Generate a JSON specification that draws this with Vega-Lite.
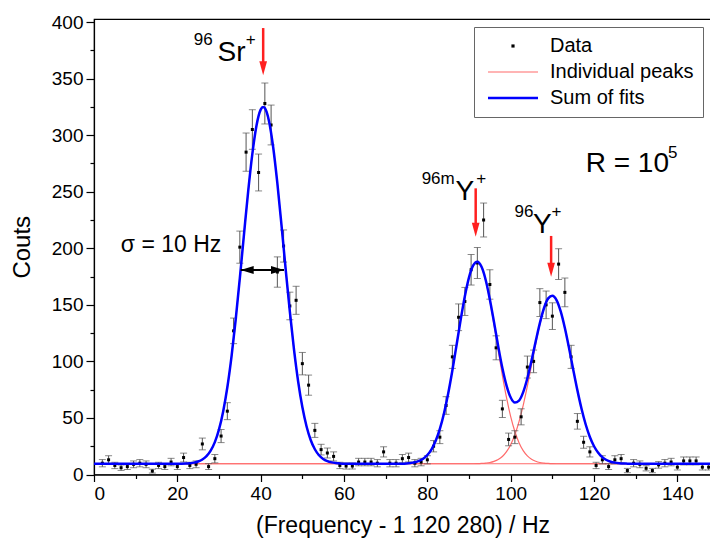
{
  "$schema": "https://vega.github.io/schema/vega-lite/v6.json",
  "width": 617,
  "height": 455.5,
  "autosize": {"type": "none"},
  "padding": {"left": 94, "top": 19, "right": 0, "bottom": 74.5},
  "config": {
    "font": "Liberation Sans",
    "view": {"stroke": "black", "strokeWidth": 1.2},
    "axis": {"domainColor": "black", "tickColor": "black", "labelColor": "black", "titleColor": "black", "grid": false, "titleFontWeight": "normal", "labelFont": "Liberation Sans", "titleFont": "Liberation Sans", "domainWidth": 1.2, "tickWidth": 1.2}
  },
  "resolve": {"axis": {"x": "independent", "y": "independent"}},
  "datasets": {
    "pts": [
      {"x": 2, "y": 10, "err": 3.2}, {"x": 3.5, "y": 13, "err": 3.6}, {"x": 5, "y": 8, "err": 2.8}, {"x": 6.5, "y": 6, "err": 2.4},
      {"x": 8, "y": 7, "err": 2.6}, {"x": 9.5, "y": 9, "err": 3.0}, {"x": 11, "y": 10, "err": 3.2}, {"x": 12.5, "y": 9, "err": 3.0},
      {"x": 14, "y": 3, "err": 1.7}, {"x": 15.5, "y": 8, "err": 2.8}, {"x": 17, "y": 7, "err": 2.6}, {"x": 18.5, "y": 11, "err": 3.3},
      {"x": 20, "y": 7, "err": 2.6}, {"x": 21.5, "y": 15, "err": 3.9}, {"x": 23, "y": 8, "err": 2.8}, {"x": 24.5, "y": 9, "err": 3.0},
      {"x": 26, "y": 27, "err": 5.2}, {"x": 27.5, "y": 7, "err": 2.6}, {"x": 29, "y": 14, "err": 3.7}, {"x": 30.5, "y": 34, "err": 5.8},
      {"x": 32, "y": 56, "err": 7.5}, {"x": 33.5, "y": 127, "err": 11.3}, {"x": 35, "y": 201, "err": 14.2}, {"x": 36.5, "y": 285, "err": 16.9},
      {"x": 38, "y": 305, "err": 17.5}, {"x": 39.5, "y": 267, "err": 16.3}, {"x": 41, "y": 328, "err": 18.1}, {"x": 42.5, "y": 309, "err": 17.6},
      {"x": 44, "y": 179, "err": 13.4}, {"x": 45.5, "y": 202, "err": 14.2}, {"x": 47, "y": 149, "err": 12.2}, {"x": 48.5, "y": 154, "err": 12.4},
      {"x": 50, "y": 98, "err": 9.9}, {"x": 51.5, "y": 79, "err": 8.9}, {"x": 53, "y": 39, "err": 6.2}, {"x": 54.5, "y": 22, "err": 4.7},
      {"x": 56, "y": 19, "err": 4.4}, {"x": 57.5, "y": 16, "err": 4.0}, {"x": 59, "y": 8, "err": 2.8}, {"x": 60.5, "y": 7.5, "err": 2.7},
      {"x": 62, "y": 7.5, "err": 2.7}, {"x": 63.5, "y": 11, "err": 3.3}, {"x": 65, "y": 11, "err": 3.3}, {"x": 66.5, "y": 11, "err": 3.3},
      {"x": 68, "y": 10, "err": 3.2}, {"x": 69.5, "y": 20, "err": 4.5}, {"x": 71, "y": 10, "err": 3.2}, {"x": 72.5, "y": 10, "err": 3.2},
      {"x": 74, "y": 14, "err": 3.7}, {"x": 75.5, "y": 15, "err": 3.9}, {"x": 77, "y": 10, "err": 3.2}, {"x": 78.5, "y": 11, "err": 3.3},
      {"x": 80, "y": 13, "err": 3.6}, {"x": 81.5, "y": 25, "err": 5.0}, {"x": 83, "y": 33, "err": 5.7}, {"x": 84.5, "y": 61, "err": 7.8},
      {"x": 86, "y": 104, "err": 10.2}, {"x": 87.5, "y": 139, "err": 11.8}, {"x": 89, "y": 153, "err": 12.4}, {"x": 90.5, "y": 181, "err": 13.5},
      {"x": 92, "y": 187, "err": 13.7}, {"x": 93.5, "y": 225, "err": 15.0}, {"x": 95, "y": 168, "err": 13.0}, {"x": 96.5, "y": 112, "err": 10.6},
      {"x": 98, "y": 58, "err": 7.6}, {"x": 99.5, "y": 31, "err": 5.6}, {"x": 101, "y": 33, "err": 5.7}, {"x": 102.5, "y": 51, "err": 7.1},
      {"x": 104, "y": 95, "err": 9.7}, {"x": 105.5, "y": 100, "err": 10.0}, {"x": 107, "y": 152, "err": 12.3}, {"x": 108.5, "y": 150, "err": 12.2},
      {"x": 110, "y": 140, "err": 11.8}, {"x": 111.5, "y": 186, "err": 13.6}, {"x": 113, "y": 161, "err": 12.7}, {"x": 114.5, "y": 104, "err": 10.2},
      {"x": 116, "y": 47, "err": 6.9}, {"x": 117.5, "y": 28.5, "err": 5.3}, {"x": 119, "y": 20, "err": 4.5}, {"x": 120.5, "y": 8, "err": 2.8},
      {"x": 122, "y": 13, "err": 3.6}, {"x": 123.5, "y": 7, "err": 2.6}, {"x": 125, "y": 13, "err": 3.6}, {"x": 126.5, "y": 14, "err": 3.7},
      {"x": 128, "y": 3.5, "err": 1.9}, {"x": 129.5, "y": 10, "err": 3.2}, {"x": 131, "y": 9, "err": 3.0}, {"x": 132.5, "y": 5.5, "err": 2.3},
      {"x": 134, "y": 3.5, "err": 1.9}, {"x": 135.5, "y": 8.5, "err": 2.9}, {"x": 137, "y": 10, "err": 3.2}, {"x": 138.5, "y": 11, "err": 3.3},
      {"x": 140, "y": 6.5, "err": 2.5}, {"x": 141.5, "y": 12, "err": 3.5}, {"x": 143, "y": 12, "err": 3.5}, {"x": 144.5, "y": 12, "err": 3.5},
      {"x": 146, "y": 6.5, "err": 2.5}, {"x": 147.5, "y": 6.5, "err": 2.5}
    ],
    "fit": [
      {"x": 0, "sr": 9.5, "ym": 9.5, "yg": 9.5, "sum": 9.5},
      {"x": 10, "sr": 9.5, "ym": 9.5, "yg": 9.5, "sum": 9.5},
      {"x": 20, "sr": 9.5, "ym": 9.5, "yg": 9.5, "sum": 9.5},
      {"x": 22, "sr": 9.7, "ym": 9.5, "yg": 9.5, "sum": 9.7},
      {"x": 23, "sr": 10.0, "ym": 9.5, "yg": 9.5, "sum": 10.0},
      {"x": 24, "sr": 10.5, "ym": 9.5, "yg": 9.5, "sum": 10.5},
      {"x": 25, "sr": 11.5, "ym": 9.5, "yg": 9.5, "sum": 11.5},
      {"x": 26, "sr": 13.2, "ym": 9.5, "yg": 9.5, "sum": 13.2},
      {"x": 27, "sr": 16.2, "ym": 9.5, "yg": 9.5, "sum": 16.2},
      {"x": 28, "sr": 21.1, "ym": 9.5, "yg": 9.5, "sum": 21.1},
      {"x": 29, "sr": 28.6, "ym": 9.5, "yg": 9.5, "sum": 28.6},
      {"x": 30, "sr": 39.9, "ym": 9.5, "yg": 9.5, "sum": 39.9},
      {"x": 31, "sr": 55.8, "ym": 9.5, "yg": 9.5, "sum": 55.8},
      {"x": 32, "sr": 77.1, "ym": 9.5, "yg": 9.5, "sum": 77.1},
      {"x": 33, "sr": 104.2, "ym": 9.5, "yg": 9.5, "sum": 104.2},
      {"x": 34, "sr": 136.8, "ym": 9.5, "yg": 9.5, "sum": 136.8},
      {"x": 35, "sr": 173.7, "ym": 9.5, "yg": 9.5, "sum": 173.7},
      {"x": 36, "sr": 212.5, "ym": 9.5, "yg": 9.5, "sum": 212.5},
      {"x": 37, "sr": 250.4, "ym": 9.5, "yg": 9.5, "sum": 250.4},
      {"x": 38, "sr": 283.5, "ym": 9.5, "yg": 9.5, "sum": 283.5},
      {"x": 39, "sr": 308.6, "ym": 9.5, "yg": 9.5, "sum": 308.6},
      {"x": 40, "sr": 322.6, "ym": 9.5, "yg": 9.5, "sum": 322.6},
      {"x": 40.6, "sr": 325.0, "ym": 9.5, "yg": 9.5, "sum": 325.0},
      {"x": 41, "sr": 324.0, "ym": 9.5, "yg": 9.5, "sum": 324.0},
      {"x": 42, "sr": 312.4, "ym": 9.5, "yg": 9.5, "sum": 312.4},
      {"x": 43, "sr": 289.3, "ym": 9.5, "yg": 9.5, "sum": 289.3},
      {"x": 44, "sr": 257.5, "ym": 9.5, "yg": 9.5, "sum": 257.5},
      {"x": 45, "sr": 220.3, "ym": 9.5, "yg": 9.5, "sum": 220.3},
      {"x": 46, "sr": 181.4, "ym": 9.5, "yg": 9.5, "sum": 181.4},
      {"x": 47, "sr": 143.9, "ym": 9.5, "yg": 9.5, "sum": 143.9},
      {"x": 48, "sr": 110.3, "ym": 9.5, "yg": 9.5, "sum": 110.3},
      {"x": 49, "sr": 82.0, "ym": 9.5, "yg": 9.5, "sum": 82.0},
      {"x": 50, "sr": 59.6, "ym": 9.5, "yg": 9.5, "sum": 59.6},
      {"x": 51, "sr": 42.7, "ym": 9.5, "yg": 9.5, "sum": 42.7},
      {"x": 52, "sr": 30.5, "ym": 9.5, "yg": 9.5, "sum": 30.5},
      {"x": 53, "sr": 22.3, "ym": 9.5, "yg": 9.5, "sum": 22.3},
      {"x": 54, "sr": 17.0, "ym": 9.5, "yg": 9.5, "sum": 17.0},
      {"x": 55, "sr": 13.7, "ym": 9.5, "yg": 9.5, "sum": 13.7},
      {"x": 56, "sr": 11.8, "ym": 9.5, "yg": 9.5, "sum": 11.8},
      {"x": 57, "sr": 10.7, "ym": 9.5, "yg": 9.5, "sum": 10.7},
      {"x": 58, "sr": 10.1, "ym": 9.5, "yg": 9.5, "sum": 10.1},
      {"x": 59, "sr": 9.8, "ym": 9.5, "yg": 9.5, "sum": 9.8},
      {"x": 60, "sr": 9.6, "ym": 9.5, "yg": 9.5, "sum": 9.6},
      {"x": 62, "sr": 9.5, "ym": 9.5, "yg": 9.5, "sum": 9.5},
      {"x": 70, "sr": 9.5, "ym": 9.5, "yg": 9.5, "sum": 9.5},
      {"x": 74, "sr": 9.5, "ym": 9.6, "yg": 9.5, "sum": 9.6},
      {"x": 75, "sr": 9.5, "ym": 9.8, "yg": 9.5, "sum": 9.8},
      {"x": 76, "sr": 9.5, "ym": 10.2, "yg": 9.5, "sum": 10.2},
      {"x": 77, "sr": 9.5, "ym": 10.8, "yg": 9.5, "sum": 10.8},
      {"x": 78, "sr": 9.5, "ym": 12.0, "yg": 9.5, "sum": 12.0},
      {"x": 79, "sr": 9.5, "ym": 14.0, "yg": 9.5, "sum": 14.0},
      {"x": 80, "sr": 9.5, "ym": 17.2, "yg": 9.5, "sum": 17.2},
      {"x": 81, "sr": 9.5, "ym": 22.3, "yg": 9.5, "sum": 22.3},
      {"x": 82, "sr": 9.5, "ym": 29.8, "yg": 9.5, "sum": 29.8},
      {"x": 83, "sr": 9.5, "ym": 40.3, "yg": 9.5, "sum": 40.3},
      {"x": 84, "sr": 9.5, "ym": 54.2, "yg": 9.5, "sum": 54.2},
      {"x": 85, "sr": 9.5, "ym": 71.6, "yg": 9.5, "sum": 71.6},
      {"x": 86, "sr": 9.5, "ym": 92.0, "yg": 9.5, "sum": 92.0},
      {"x": 87, "sr": 9.5, "ym": 114.3, "yg": 9.5, "sum": 114.3},
      {"x": 88, "sr": 9.5, "ym": 136.9, "yg": 9.5, "sum": 136.9},
      {"x": 89, "sr": 9.5, "ym": 157.6, "yg": 9.5, "sum": 157.6},
      {"x": 90, "sr": 9.5, "ym": 174.3, "yg": 9.5, "sum": 174.3},
      {"x": 91, "sr": 9.5, "ym": 184.8, "yg": 9.5, "sum": 184.8},
      {"x": 92, "sr": 9.5, "ym": 188.0, "yg": 9.6, "sum": 188.1},
      {"x": 93, "sr": 9.5, "ym": 183.3, "yg": 9.8, "sum": 183.6},
      {"x": 94, "sr": 9.5, "ym": 171.4, "yg": 10.1, "sum": 172.0},
      {"x": 95, "sr": 9.5, "ym": 153.7, "yg": 10.6, "sum": 154.8},
      {"x": 96, "sr": 9.5, "ym": 132.5, "yg": 11.6, "sum": 134.6},
      {"x": 97, "sr": 9.5, "ym": 109.8, "yg": 13.2, "sum": 113.5},
      {"x": 98, "sr": 9.5, "ym": 87.7, "yg": 15.9, "sum": 94.1},
      {"x": 99, "sr": 9.5, "ym": 67.9, "yg": 20.2, "sum": 78.6},
      {"x": 100, "sr": 9.5, "ym": 51.2, "yg": 26.4, "sum": 68.1},
      {"x": 101, "sr": 9.5, "ym": 38.0, "yg": 35.1, "sum": 63.6},
      {"x": 102, "sr": 9.5, "ym": 28.1, "yg": 46.7, "sum": 65.3},
      {"x": 103, "sr": 9.5, "ym": 21.1, "yg": 61.2, "sum": 72.8},
      {"x": 104, "sr": 9.5, "ym": 16.5, "yg": 78.1, "sum": 85.1},
      {"x": 105, "sr": 9.5, "ym": 13.5, "yg": 96.7, "sum": 100.7},
      {"x": 106, "sr": 9.5, "ym": 11.7, "yg": 115.5, "sum": 117.7},
      {"x": 107, "sr": 9.5, "ym": 10.6, "yg": 132.7, "sum": 133.8},
      {"x": 108, "sr": 9.5, "ym": 10.1, "yg": 146.6, "sum": 147.2},
      {"x": 109, "sr": 9.5, "ym": 9.8, "yg": 155.4, "sum": 155.7},
      {"x": 110, "sr": 9.5, "ym": 9.6, "yg": 158.0, "sum": 158.1},
      {"x": 111, "sr": 9.5, "ym": 9.5, "yg": 154.1, "sum": 154.2},
      {"x": 112, "sr": 9.5, "ym": 9.5, "yg": 144.2, "sum": 144.2},
      {"x": 113, "sr": 9.5, "ym": 9.5, "yg": 129.5, "sum": 129.5},
      {"x": 114, "sr": 9.5, "ym": 9.5, "yg": 111.8, "sum": 111.8},
      {"x": 115, "sr": 9.5, "ym": 9.5, "yg": 92.9, "sum": 92.9},
      {"x": 116, "sr": 9.5, "ym": 9.5, "yg": 74.6, "sum": 74.6},
      {"x": 117, "sr": 9.5, "ym": 9.5, "yg": 58.1, "sum": 58.1},
      {"x": 118, "sr": 9.5, "ym": 9.5, "yg": 44.2, "sum": 44.2},
      {"x": 119, "sr": 9.5, "ym": 9.5, "yg": 33.2, "sum": 33.2},
      {"x": 120, "sr": 9.5, "ym": 9.5, "yg": 25.0, "sum": 25.0},
      {"x": 121, "sr": 9.5, "ym": 9.5, "yg": 19.2, "sum": 19.2},
      {"x": 122, "sr": 9.5, "ym": 9.5, "yg": 15.3, "sum": 15.3},
      {"x": 123, "sr": 9.5, "ym": 9.5, "yg": 12.8, "sum": 12.8},
      {"x": 124, "sr": 9.5, "ym": 9.5, "yg": 11.3, "sum": 11.3},
      {"x": 125, "sr": 9.5, "ym": 9.5, "yg": 10.5, "sum": 10.5},
      {"x": 126, "sr": 9.5, "ym": 9.5, "yg": 10.0, "sum": 10.0},
      {"x": 127, "sr": 9.5, "ym": 9.5, "yg": 9.7, "sum": 9.7},
      {"x": 128, "sr": 9.5, "ym": 9.5, "yg": 9.6, "sum": 9.6},
      {"x": 130, "sr": 9.5, "ym": 9.5, "yg": 9.5, "sum": 9.5},
      {"x": 148, "sr": 9.5, "ym": 9.5, "yg": 9.5, "sum": 9.5}
    ],
    "big": [
      {"x": 33.0, "y": 366, "t": "Sr"},
      {"x": 89.0, "y": 242.7, "t": "Y"},
      {"x": 107.6, "y": 213.5, "t": "Y"},
      {"x": 128.0, "y": 267.5, "t": "R = 10"}
    ],
    "sup": [
      {"x": 26.2, "y": 380, "t": "96"},
      {"x": 37.6, "y": 380, "t": "+"},
      {"x": 82.6, "y": 257, "t": "96m"},
      {"x": 92.9, "y": 257, "t": "+"},
      {"x": 103.2, "y": 228, "t": "96"},
      {"x": 111.0, "y": 228, "t": "+"},
      {"x": 138.9, "y": 280, "t": "5"}
    ],
    "sigma": [{"x": 18.5, "y": 196.7, "t": "σ = 10 Hz"}],
    "redarrows": [
      {"x": 40.6, "top": 394.7, "neck": 360, "tip": 353},
      {"x": 91.6, "top": 253, "neck": 217, "tip": 210.3},
      {"x": 109.7, "top": 210.9, "neck": 182, "tip": 174.9}
    ],
    "widtharrow": [{"x1": 35.2, "x2": 45.6, "y": 180.8}]
  },
  "layer": [
    {
      "data": {"name": "fit"},
      "transform": [{"fold": ["sr", "ym", "yg"], "as": ["peak", "val"]}],
      "mark": {"type": "line", "strokeWidth": 1.2, "interpolate": "monotone"},
      "encoding": {
        "x": {"field": "x", "type": "quantitative", "scale": {"domain": [0, 148.07], "nice": false, "zero": false},
              "axis": {"orient": "bottom", "values": [10, 30, 50, 70, 90, 110, 130], "labels": false, "domain": false, "tickSize": 4, "title": null}},
        "y": {"field": "val", "type": "quantitative", "scale": {"domain": [0, 402.7], "nice": false, "zero": false},
              "axis": {"orient": "left", "values": [25, 75, 125, 175, 225, 275, 325, 375], "labels": false, "domain": false, "tickSize": 4, "title": null}},
        "detail": {"field": "peak"},
        "color": {
          "datum": "Individual peaks",
          "scale": {"domain": ["Data", "Individual peaks", "Sum of fits"], "range": ["black", "#ff6b6b", "#0000ff"]},
          "legend": {
            "title": null,
            "orient": "top-right",
            "offset": 8,
            "symbolType": "M-5,0H5",
            "symbolSize": 100,
            "symbolOffset": 20,
            "labelOffset": 27,
            "labelFontSize": 20,
            "labelFont": "Liberation Sans",
            "labelColor": "black",
            "rowPadding": 6,
            "padding": 9,
            "strokeColor": "#666666",
            "fillColor": "white",
            "encode": {
              "symbols": {
                "update": {
                  "shape": {"signal": "datum.value === 'Data' ? 'square' : 'M-5,0H5'"},
                  "size": {"signal": "datum.value === 'Data' ? 10 : 100"},
                  "strokeWidth": {"signal": "datum.value === 'Sum of fits' ? 2.5 : (datum.value === 'Data' ? 0 : 1.2)"},
                  "fill": {"signal": "datum.value === 'Data' ? 'black' : 'transparent'"},
                  "stroke": {"signal": "datum.value === 'Data' ? 'black' : scale('color', datum.value)"},
                  "opacity": {"value": 1}
                }
              }
            }
          }
        }
      }
    },
    {
      "data": {"name": "pts"},
      "mark": {"type": "errorbar", "ticks": {"size": 7, "color": "#555555"}, "rule": {"color": "#555555", "strokeWidth": 1}},
      "encoding": {
        "x": {"field": "x", "type": "quantitative", "axis": null},
        "y": {"field": "y", "type": "quantitative", "axis": null},
        "yError": {"field": "err"}
      }
    },
    {
      "data": {"name": "pts"},
      "mark": {"type": "point", "shape": "square", "filled": true, "size": 9, "color": "black", "opacity": 1},
      "encoding": {
        "x": {"field": "x", "type": "quantitative",
              "axis": {"orient": "bottom", "values": [0, 20, 40, 60, 80, 100, 120, 140], "tickSize": 7, "labelFontSize": 19, "labelPadding": 3, "title": "(Frequency - 1 120 280) / Hz", "titleFontSize": 23, "titlePadding": 11}},
        "y": {"field": "y", "type": "quantitative",
              "axis": {"orient": "left", "values": [0, 50, 100, 150, 200, 250, 300, 350, 400], "tickSize": 8, "labelFontSize": 19, "labelPadding": 3, "title": "Couts", "titleFontSize": 24, "titlePadding": 17}}
      }
    },
    {
      "data": {"name": "fit"},
      "mark": {"type": "line", "strokeWidth": 2.5, "interpolate": "monotone"},
      "encoding": {
        "x": {"field": "x", "type": "quantitative", "axis": null},
        "y": {"field": "sum", "type": "quantitative", "axis": null},
        "color": {"datum": "Sum of fits"}
      }
    },
    {
      "data": {"name": "redarrows"},
      "mark": {"type": "rule", "color": "#ff2020", "strokeWidth": 2.5},
      "encoding": {
        "x": {"field": "x", "type": "quantitative", "axis": null},
        "y": {"field": "top", "type": "quantitative", "axis": null},
        "y2": {"field": "neck"}
      }
    },
    {
      "data": {"name": "redarrows"},
      "mark": {"type": "point", "shape": "M0,0L-0.55,-2L0.55,-2Z", "size": 196, "filled": true, "color": "#ff2020", "opacity": 1},
      "encoding": {
        "x": {"field": "x", "type": "quantitative", "axis": null},
        "y": {"field": "tip", "type": "quantitative", "axis": null}
      }
    },
    {
      "data": {"name": "widtharrow"},
      "mark": {"type": "rule", "color": "black", "strokeWidth": 2},
      "encoding": {
        "x": {"field": "x1", "type": "quantitative", "axis": null},
        "x2": {"field": "x2"},
        "y": {"field": "y", "type": "quantitative", "axis": null}
      }
    },
    {
      "data": {"name": "widtharrow"},
      "mark": {"type": "point", "shape": "M0,0L2,-0.6L2,0.6Z", "size": 169, "filled": true, "color": "black", "opacity": 1},
      "encoding": {
        "x": {"field": "x1", "type": "quantitative", "axis": null},
        "y": {"field": "y", "type": "quantitative", "axis": null}
      }
    },
    {
      "data": {"name": "widtharrow"},
      "mark": {"type": "point", "shape": "M0,0L-2,-0.6L-2,0.6Z", "size": 169, "filled": true, "color": "black", "opacity": 1},
      "encoding": {
        "x": {"field": "x2", "type": "quantitative", "axis": null},
        "y": {"field": "y", "type": "quantitative", "axis": null}
      }
    },
    {
      "data": {"name": "big"},
      "mark": {"type": "text", "fontSize": 28, "align": "center", "baseline": "alphabetic", "color": "black"},
      "encoding": {
        "x": {"field": "x", "type": "quantitative", "axis": null},
        "y": {"field": "y", "type": "quantitative", "axis": null},
        "text": {"field": "t"}
      }
    },
    {
      "data": {"name": "sup"},
      "mark": {"type": "text", "fontSize": 17, "align": "center", "baseline": "alphabetic", "color": "black"},
      "encoding": {
        "x": {"field": "x", "type": "quantitative", "axis": null},
        "y": {"field": "y", "type": "quantitative", "axis": null},
        "text": {"field": "t"}
      }
    },
    {
      "data": {"name": "sigma"},
      "mark": {"type": "text", "fontSize": 23, "align": "center", "baseline": "alphabetic", "color": "black"},
      "encoding": {
        "x": {"field": "x", "type": "quantitative", "axis": null},
        "y": {"field": "y", "type": "quantitative", "axis": null},
        "text": {"field": "t"}
      }
    }
  ]
}
